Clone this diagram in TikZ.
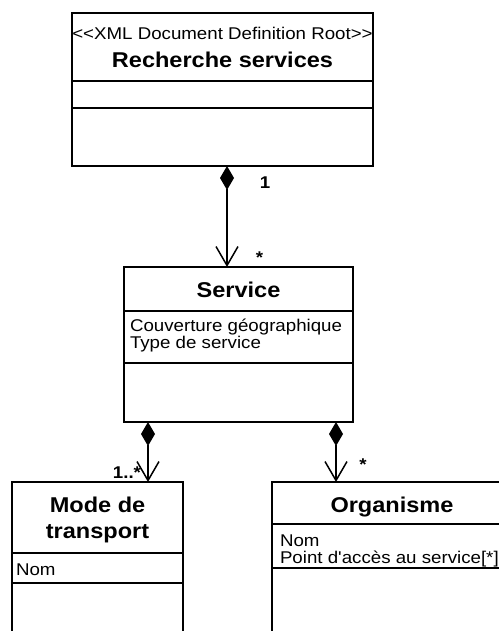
\documentclass[tikz,border=0pt]{standalone}
\usepackage{fontspec}
\setmainfont{Liberation Sans}[FakeStretch=1.1, Ligatures=TeXOff]
\usetikzlibrary{arrows.meta}
\tikzset{
  x=1bp, y=-1bp,
  every node/.style={inner sep=0pt, outer sep=0pt},
  classbox/.style={draw, line width=1.6bp, rectangle, anchor=north west},
  sepline/.style={line width=1.5bp},
  title/.style={font=\fontsize{21.4bp}{26bp}\selectfont\bfseries, anchor=base},
  attr/.style={font=\fontsize{17bp}{20bp}\selectfont, anchor=base west},
  stereo/.style={font=\fontsize{17bp}{20bp}\selectfont, anchor=base},
  mult/.style={font=\fontsize{17bp}{20bp}\selectfont\bfseries},
  comp/.style={line width=1.5bp, {Diamond[length=24bp,width=14bp]}-{Straight Barb[length=19bp,width=22bp,line width=1.5bp]}}
}
\begin{document}
\begin{tikzpicture}
\useasboundingbox (0,0) rectangle (499,631);
\clip (0,0) rectangle (499,631);
\fill[white] (0,0) rectangle (499,631);

% Root class
\node[classbox, minimum width=301bp, minimum height=153bp] (root) at (72,13) {};
\node[stereo] (rootst) at (222.5,40) {<{}<XML Document Definition Root>{}>};
\node[title] (roottl) at (222.5,68) {Recherche services};
\draw[sepline] (root.west |- 0,81) -- (root.east |- 0,81);
\draw[sepline] (root.west |- 0,108) -- (root.east |- 0,108);

% Service class
\node[classbox, minimum width=229bp, minimum height=155bp] (svc) at (124,267) {};
\node[title] (svctl) at (238.5,297) {Service};
\draw[sepline] (svc.west |- 0,311) -- (svc.east |- 0,311);
\node[attr] (svca1) at (130,331) {Couverture géographique};
\node[attr] (svca2) at (130,348) {Type de service};
\draw[sepline] (svc.west |- 0,363) -- (svc.east |- 0,363);

% Mode de transport class
\node[classbox, minimum width=171bp, minimum height=170bp] (mode) at (12,482) {};
\node[title] (modetl1) at (97.5,512) {Mode de};
\node[title] (modetl2) at (97.5,538) {transport};
\draw[sepline] (mode.west |- 0,553) -- (mode.east |- 0,553);
\node[attr] (modea1) at (16,575) {Nom};
\draw[sepline] (mode.west |- 0,583) -- (mode.east |- 0,583);

% Organisme class
\node[classbox, minimum width=240bp, minimum height=170bp] (org) at (272,482) {};
\node[title] (orgtl) at (392,512) {Organisme};
\draw[sepline] (org.west |- 0,524) -- (org.east |- 0,524);
\node[attr] (orga1) at (280,546) {Nom};
\node[attr] (orga2) at (280,563) {Point d'accès au service[*]};
\draw[sepline] (org.west |- 0,568) -- (org.east |- 0,568);

% Compositions
\draw[comp] (root.south -| 227,0) -- (svc.north -| 227,0);
\draw[comp] (svc.south -| 148,0) -- (mode.north -| 148,0);
\draw[comp] (svc.south -| 336,0) -- (org.north -| 336,0);

% Multiplicities
\node[mult, anchor=base] (m1) at (265,189) {1};
\node[mult, anchor=base] (m2) at (259.5,263) {*};
\node[mult, anchor=base east] (m3) at (141,478) {1..*};
\node[mult, anchor=base] (m4) at (363,470) {*};
\end{tikzpicture}
\end{document}
